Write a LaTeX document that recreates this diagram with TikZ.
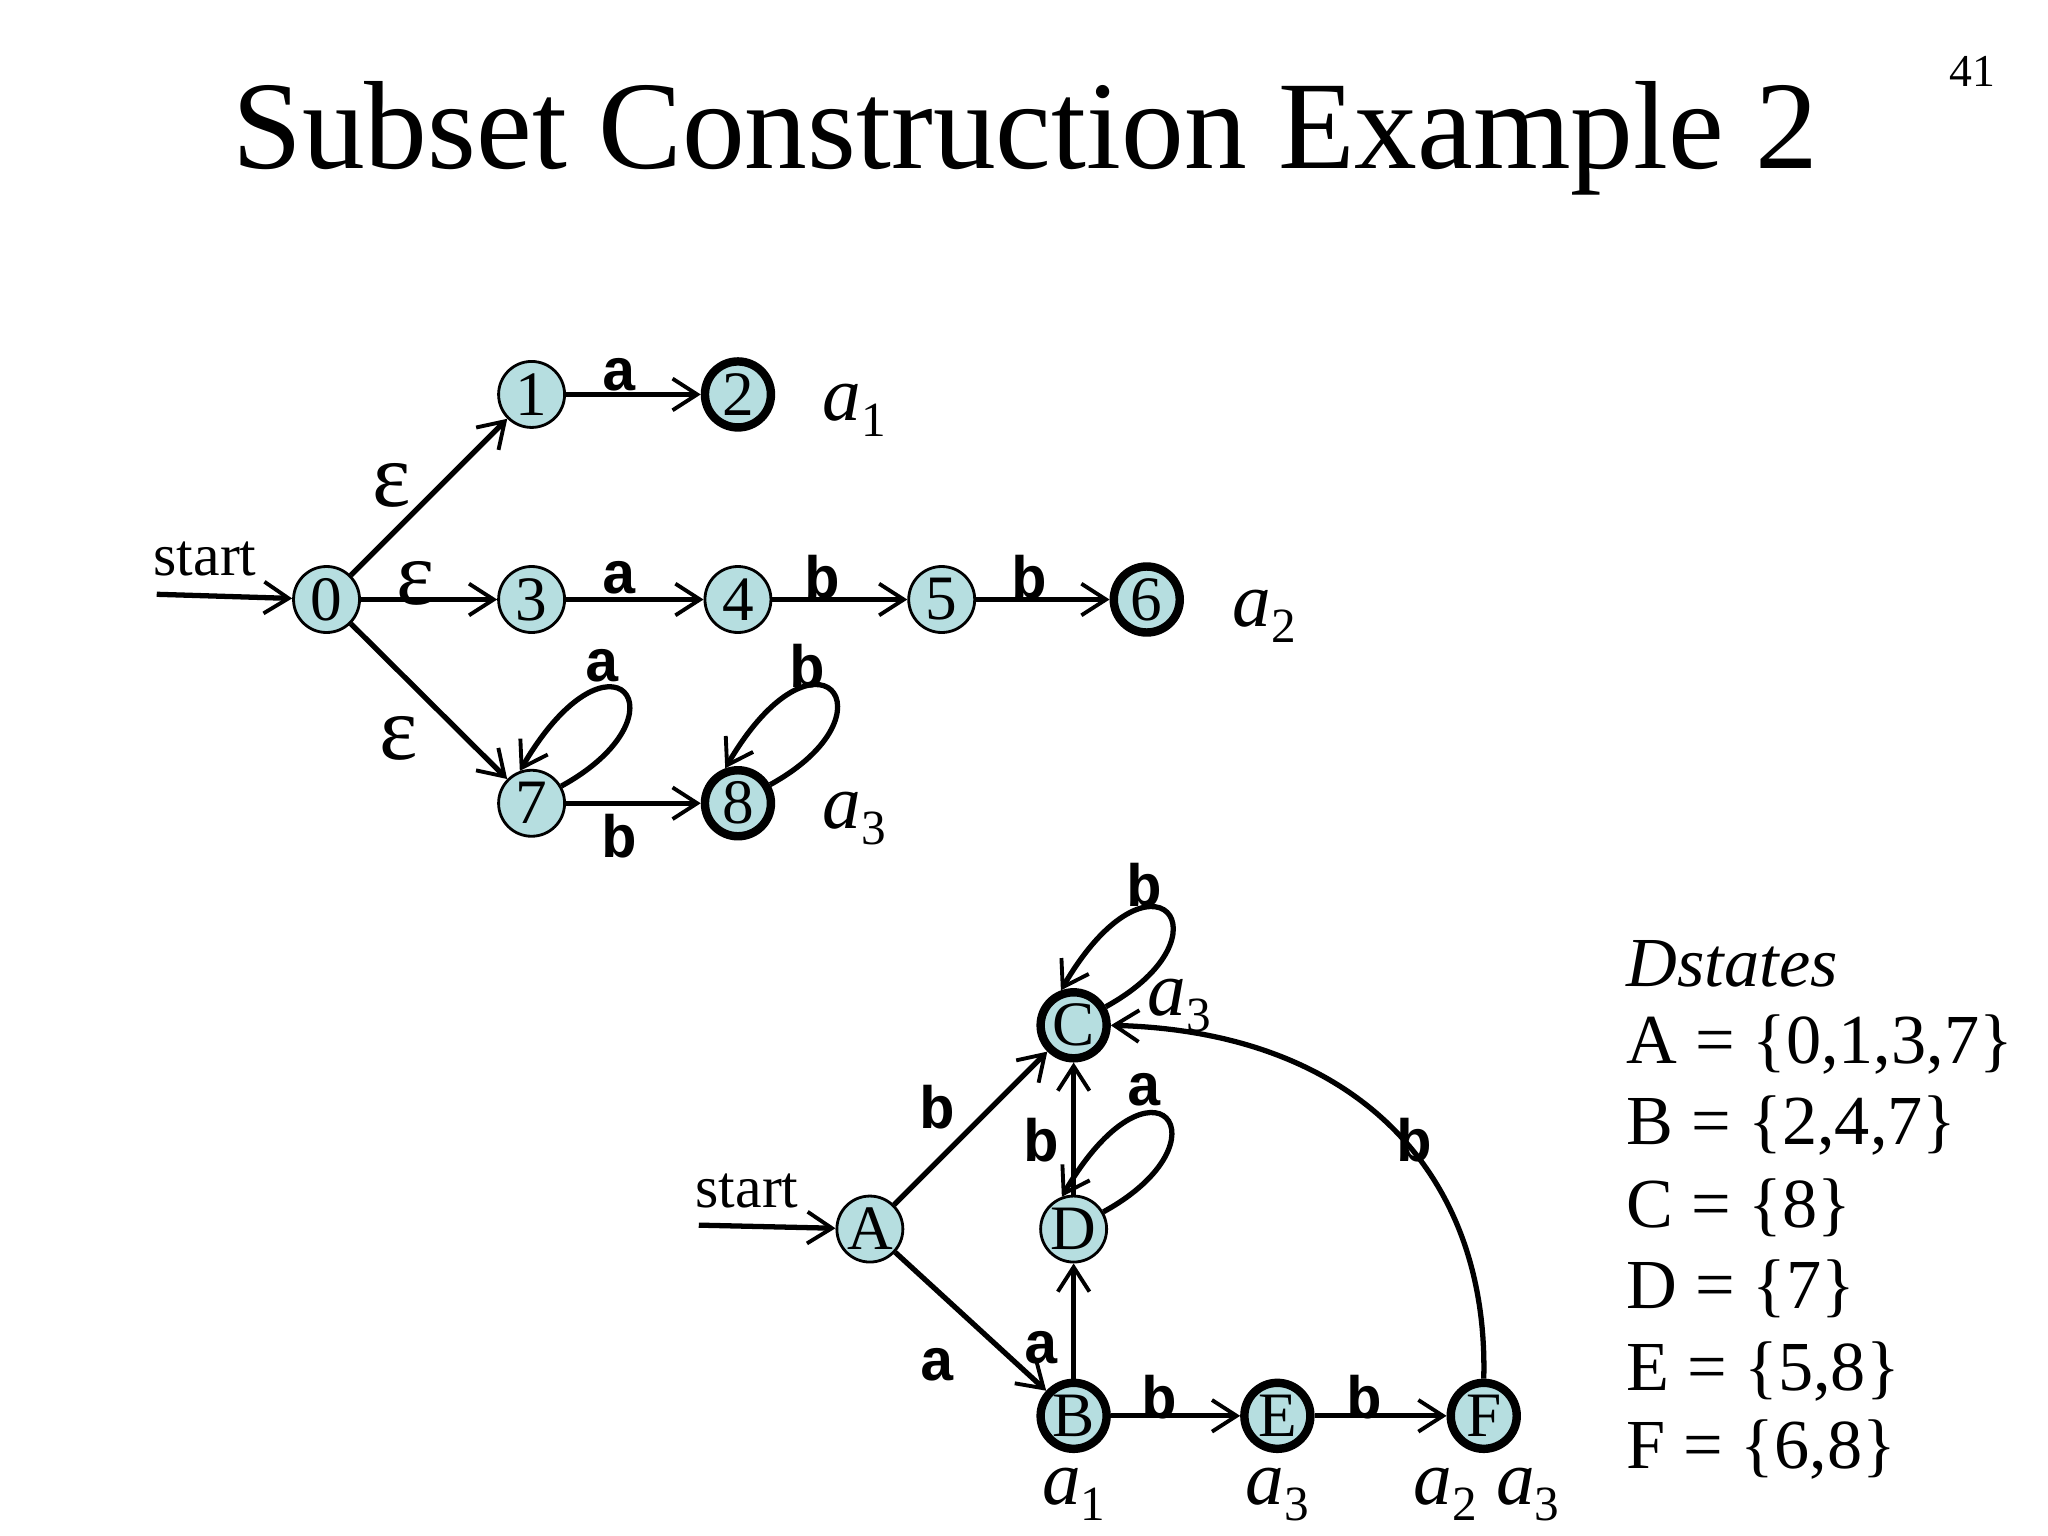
\documentclass[tikz,border=0pt]{standalone}
\usepackage{fontspec}
\setmainfont{Liberation Serif}
\newfontfamily\monob[BoldFont={Liberation Mono Bold}]{Liberation Mono}
\usetikzlibrary{arrows.meta}
\definecolor{stfill}{RGB}{182,222,224}
\newcommand{\sublab}[2]{\textit{#1}\raisebox{-0.45ex}{\fontsize{14}{14}\selectfont #2}}
\tikzset{
  x=0.013061cm,y=-0.013061cm,
  st/.style={circle,draw,thick,fill=stfill,minimum size=0.66cm,inner sep=0pt,font=\fontsize{18}{18}\selectfont},
  acc/.style={st,line width=2.4pt},
  arr/.style={line width=1.5pt,-{Straight Barb[length=7pt,width=9pt,line width=1.1pt]}},
  lab/.style={font=\monob\bfseries\fontsize{17}{17}\selectfont},
  eps/.style={font=\fontsize{26}{26}\selectfont},
  ital/.style={font=\fontsize{22}{22}\selectfont},
  plain/.style={font=\fontsize{17}{17}\selectfont}
}
\begin{document}
\begin{tikzpicture}
\useasboundingbox (0,0) rectangle (1568,1176);
\node[font=\fontsize{35.7}{36}\selectfont] (title) at (785,106) {Subset Construction Example 2};
\node[font=\fontsize{13}{13}\selectfont] (num) at (1510,55) {41};
% NFA
\node[st] (n0) at (250,459) {0};
\node[st] (n1) at (407,302) {1};
\node[acc] (n2) at (565,302) {2};
\node[st] (n3) at (407,459) {3};
\node[st] (n4) at (565,459) {4};
\node[st] (n5) at (721,459) {5};
\node[acc] (n6) at (878,459) {6};
\node[st] (n7) at (407,615) {7};
\node[acc] (n8) at (565,615) {8};
\coordinate (s0) at (120,455);
\node[plain] (start1) at (157,428) {start};
\draw[arr] (s0) -- (n0);
\draw[arr] (n0) -- (n1);
\draw[arr] (n0) -- (n3);
\draw[arr] (n0) -- (n7);
\draw[arr] (n1) -- (n2);
\draw[arr] (n3) -- (n4);
\draw[arr] (n4) -- (n5);
\draw[arr] (n5) -- (n6);
\draw[arr] (n7) -- (n8);
\draw[arr] (n7.30) .. controls +(100,-55) and +(70,-120) .. (n7.110);
\draw[arr] (n8.30) .. controls +(100,-55) and +(70,-120) .. (n8.110);
\node[eps] (e1) at (300,372) {ε};
\node[eps] (e2) at (318,447) {ε};
\node[eps] (e3) at (305,565) {ε};
\node[lab] (l12) at (474,287) {a};
\node[lab] (l34) at (474,442) {a};
\node[lab] (l45) at (630,442) {b};
\node[lab] (l56) at (788,442) {b};
\node[lab] (l77) at (461,510) {a};
\node[lab] (l88) at (618,510) {b};
\node[lab] (l78) at (474,640) {b};
\node[ital] (a1) at (654,314) {\sublab{a}{1}};
\node[ital] (a2) at (968,472) {\sublab{a}{2}};
\node[ital] (a3) at (654,627) {\sublab{a}{3}};
% DFA
\node[st] (A) at (666,941) {A};
\node[acc] (C) at (822,785) {C};
\node[st] (D) at (822,941) {D};
\node[acc] (B) at (822,1084) {B};
\node[acc] (E) at (978,1084) {E};
\node[acc] (F) at (1136,1084) {F};
\coordinate (s1) at (535,938);
\node[plain] (start2) at (572,912) {start};
\draw[arr] (s1) -- (A);
\draw[arr] (A) -- (C);
\draw[arr] (A) -- (B);
\draw[arr] (B) -- (D);
\draw[arr] (D) -- (C);
\draw[arr] (B) -- (E);
\draw[arr] (E) -- (F);
\draw[arr] (F.north) .. controls (1140,900) and (1040,790) .. (C.east);
\draw[arr] (D.30) .. controls +(100,-55) and +(70,-120) .. (D.110);
\draw[arr] (C.30) .. controls +(100,-55) and +(70,-120) .. (C.110);
\node[lab] (lAC) at (718,848) {b};
\node[lab] (lAB) at (718,1045) {a};
\node[lab] (lBD) at (797,1032) {a};
\node[lab] (lDC) at (797,873) {b};
\node[lab] (lDD) at (876,834) {a};
\node[lab] (lCC) at (876,678) {b};
\node[lab] (lBE) at (888,1070) {b};
\node[lab] (lEF) at (1045,1070) {b};
\node[lab] (lFC) at (1083,873) {b};
\node[ital] (c3) at (903,770) {\sublab{a}{3}};
\node[ital] (b1) at (822,1144) {\sublab{a}{1}};
\node[ital] (e3b) at (978,1144) {\sublab{a}{3}};
\node[ital] (f23) at (1138,1144) {\sublab{a}{2} \sublab{a}{3}};
% Dstates
\begin{scope}[every node/.style={anchor=west,font=\fontsize{20}{21}\selectfont}]
\node (ds) at (1236,738) {\itshape Dstates};
\node (dA) at (1236,800) {A = \{0,1,3,7\}};
\node (dB) at (1236,862) {B = \{2,4,7\}};
\node (dC) at (1236,925) {C = \{8\}};
\node (dD) at (1236,987) {D = \{7\}};
\node (dE) at (1236,1050) {E = \{5,8\}};
\node (dF) at (1236,1110) {F = \{6,8\}};
\end{scope}
\end{tikzpicture}
\end{document}
